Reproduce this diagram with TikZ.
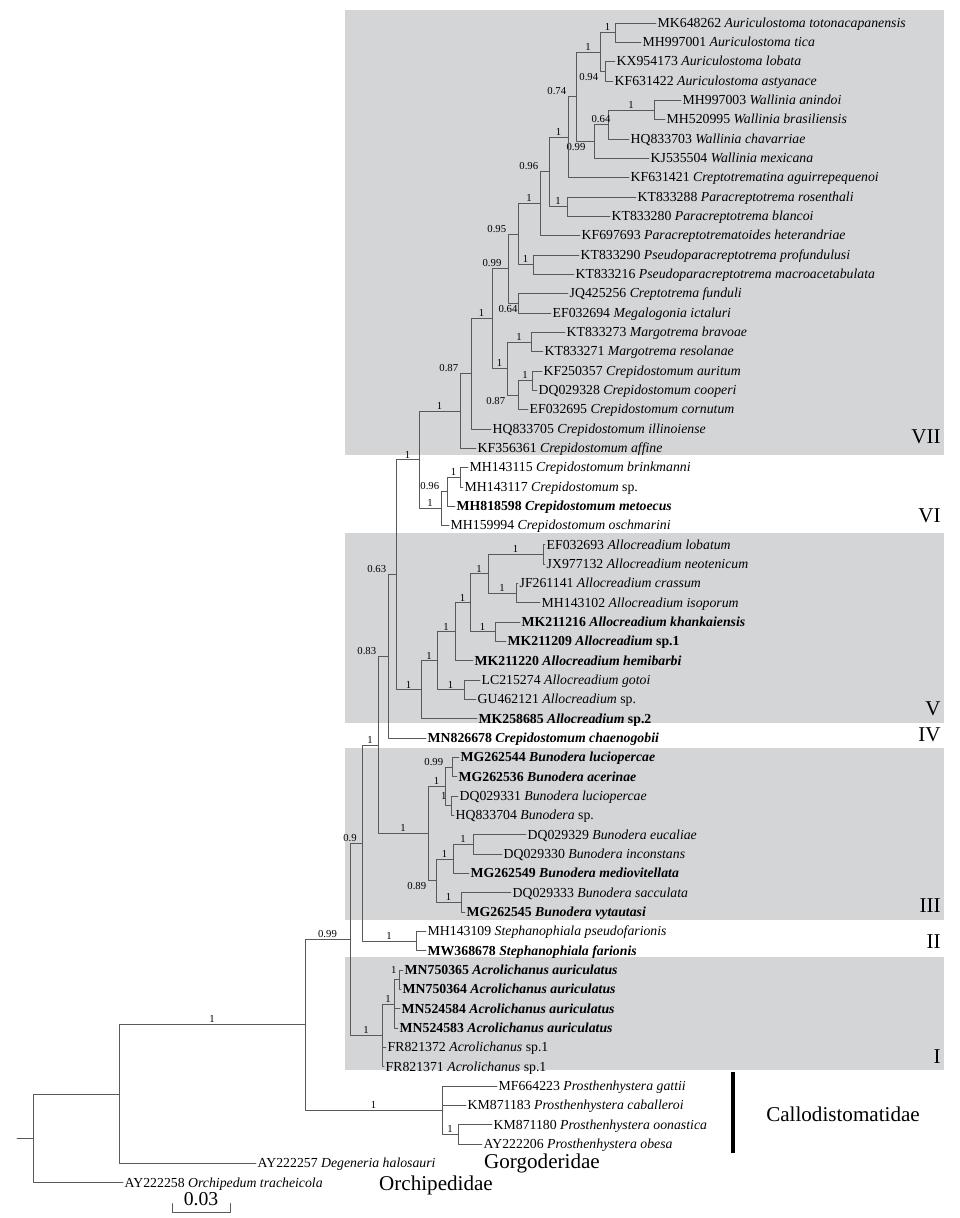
\documentclass[tikz,border=0pt]{standalone}
\usepackage{fontspec}
\setmainfont{Liberation Serif}
\definecolor{hopxam}{RGB}{211,213,215}
% tung do (px) cua hang thu #1
\newcommand{\rowy}[1]{3.67+19.33*(#1)}
\begin{document}
\begin{tikzpicture}[x=0.025cm,y=-0.025cm,line join=round,line cap=round,
	nhanh/.style={draw=black!65,line width=.6pt},
	leaf/.style={anchor=west,inner xsep=1pt,inner ysep=0pt,text height=7pt,text depth=1pt,font=\fontsize{9.8}{11}\selectfont},
	leafb/.style={leaf,font=\fontsize{9.8}{11}\selectfont\bfseries},
	bs/.style={pos=.75,above,inner sep=1pt,font=\fontsize{7.6}{8}\selectfont},
	bsal/.style={bs,pos=.5,above left},
	bsbl/.style={bs,pos=.5,below left},
	bsb/.style={bs,pos=.5,below},
	bsa/.style={bs,pos=.5,above},
	nhom/.style={anchor=east,inner sep=0pt,font=\fontsize{15}{17}\selectfont},
	ho/.style={inner sep=0pt,font=\fontsize{15}{17}\selectfont}]
	\useasboundingbox (0,0) rectangle (960,1218);
	% Cac vung to xam
	\fill[hopxam] (345,10) rectangle (944,455);
	\fill[hopxam] (345,533) rectangle (944,723);
	\fill[hopxam] (345,748) rectangle (944,920);
	\fill[hopxam] (345,957) rectangle (944,1070);
	% Ten cac nhanh
	\node[leaf] (l1) at (656,{\rowy{1}}) {MK648262 \textit{Auriculostoma totonacapanensis}};
	\node[leaf] (l2) at (641,{\rowy{2}}) {MH997001 \textit{Auriculostoma tica}};
	\node[leaf] (l3) at (615,{\rowy{3}}) {KX954173 \textit{Auriculostoma lobata}};
	\node[leaf] (l4) at (613,{\rowy{4}}) {KF631422 \textit{Auriculostoma astyanace}};
	\node[leaf] (l5) at (681,{\rowy{5}}) {MH997003 \textit{Wallinia anindoi}};
	\node[leaf] (l6) at (665,{\rowy{6}}) {MH520995 \textit{Wallinia brasiliensis}};
	\node[leaf] (l7) at (629,{\rowy{7}}) {HQ833703 \textit{Wallinia chavarriae}};
	\node[leaf] (l8) at (649,{\rowy{8}}) {KJ535504 \textit{Wallinia mexicana}};
	\node[leaf] (l9) at (629,{\rowy{9}}) {KF631421 \textit{Creptotrematina aguirrepequenoi}};
	\node[leaf] (l10) at (636,{\rowy{10}}) {KT833288 \textit{Paracreptotrema rosenthali}};
	\node[leaf] (l11) at (610,{\rowy{11}}) {KT833280 \textit{Paracreptotrema blancoi}};
	\node[leaf] (l12) at (580,{\rowy{12}}) {KF697693 \textit{Paracreptotrematoides heterandriae}};
	\node[leaf] (l13) at (579,{\rowy{13}}) {KT833290 \textit{Pseudoparacreptotrema profundulusi}};
	\node[leaf] (l14) at (574,{\rowy{14}}) {KT833216 \textit{Pseudoparacreptotrema macroacetabulata}};
	\node[leaf] (l15) at (568,{\rowy{15}}) {JQ425256 \textit{Creptotrema funduli}};
	\node[leaf] (l16) at (551,{\rowy{16}}) {EF032694 \textit{Megalogonia ictaluri}};
	\node[leaf] (l17) at (565,{\rowy{17}}) {KT833273 \textit{Margotrema bravoae}};
	\node[leaf] (l18) at (543,{\rowy{18}}) {KT833271 \textit{Margotrema resolanae}};
	\node[leaf] (l19) at (542,{\rowy{19}}) {KF250357 \textit{Crepidostomum auritum}};
	\node[leaf] (l20) at (537,{\rowy{20}}) {DQ029328 \textit{Crepidostomum cooperi}};
	\node[leaf] (l21) at (528,{\rowy{21}}) {EF032695 \textit{Crepidostomum cornutum}};
	\node[leaf] (l22) at (491,{\rowy{22}}) {HQ833705 \textit{Crepidostomum illinoiense}};
	\node[leaf] (l23) at (476,{\rowy{23}}) {KF356361 \textit{Crepidostomum affine}};
	\node[leaf] (l24) at (468,{\rowy{24}}) {MH143115 \textit{Crepidostomum brinkmanni}};
	\node[leaf] (l25) at (463,{\rowy{25}}) {MH143117 \textit{Crepidostomum} sp.};
	\node[leafb] (l26) at (455,{\rowy{26}}) {MH818598 \textit{Crepidostomum metoecus}};
	\node[leaf] (l27) at (449,{\rowy{27}}) {MH159994 \textit{Crepidostomum oschmarini}};
	\node[leaf] (l28) at (545,{\rowy{28}}) {EF032693 \textit{Allocreadium lobatum}};
	\node[leaf] (l29) at (545,{\rowy{29}}) {JX977132 \textit{Allocreadium neotenicum}};
	\node[leaf] (l30) at (518,{\rowy{30}}) {JF261141 \textit{Allocreadium crassum}};
	\node[leaf] (l31) at (540,{\rowy{31}}) {MH143102 \textit{Allocreadium isoporum}};
	\node[leafb] (l32) at (520,{\rowy{32}}) {MK211216 \textit{Allocreadium khankaiensis}};
	\node[leafb] (l33) at (506,{\rowy{33}}) {MK211209 \textit{Allocreadium} sp.1};
	\node[leafb] (l34) at (473,{\rowy{34}}) {MK211220 \textit{Allocreadium hemibarbi}};
	\node[leaf] (l35) at (480,{\rowy{35}}) {LC215274 \textit{Allocreadium gotoi}};
	\node[leaf] (l36) at (476,{\rowy{36}}) {GU462121 \textit{Allocreadium} sp.};
	\node[leafb] (l37) at (477,{\rowy{37}}) {MK258685 \textit{Allocreadium} sp.2};
	\node[leafb] (l38) at (426,{\rowy{38}}) {MN826678 \textit{Crepidostomum chaenogobii}};
	\node[leafb] (l39) at (459,{\rowy{39}}) {MG262544 \textit{Bunodera luciopercae}};
	\node[leafb] (l40) at (457,{\rowy{40}}) {MG262536 \textit{Bunodera acerinae}};
	\node[leaf] (l41) at (458,{\rowy{41}}) {DQ029331 \textit{Bunodera luciopercae}};
	\node[leaf] (l42) at (454,{\rowy{42}}) {HQ833704 \textit{Bunodera} sp.};
	\node[leaf] (l43) at (526,{\rowy{43}}) {DQ029329 \textit{Bunodera eucaliae}};
	\node[leaf] (l44) at (502,{\rowy{44}}) {DQ029330 \textit{Bunodera inconstans}};
	\node[leafb] (l45) at (469,{\rowy{45}}) {MG262549 \textit{Bunodera mediovitellata}};
	\node[leaf] (l46) at (511,{\rowy{46}}) {DQ029333 \textit{Bunodera sacculata}};
	\node[leafb] (l47) at (465,{\rowy{47}}) {MG262545 \textit{Bunodera vytautasi}};
	\node[leaf] (l48) at (426,{\rowy{48}}) {MH143109 \textit{Stephanophiala pseudofarionis}};
	\node[leafb] (l49) at (426,{\rowy{49}}) {MW368678 \textit{Stephanophiala farionis}};
	\node[leafb] (l50) at (403,{\rowy{50}}) {MN750365 \textit{Acrolichanus auriculatus}};
	\node[leafb] (l51) at (401,{\rowy{51}}) {MN750364 \textit{Acrolichanus auriculatus}};
	\node[leafb] (l52) at (400,{\rowy{52}}) {MN524584 \textit{Acrolichanus auriculatus}};
	\node[leafb] (l53) at (398,{\rowy{53}}) {MN524583 \textit{Acrolichanus auriculatus}};
	\node[leaf] (l54) at (386,{\rowy{54}}) {FR821372 \textit{Acrolichanus} sp.1};
	\node[leaf] (l55) at (384,{\rowy{55}}) {FR821371 \textit{Acrolichanus} sp.1};
	\node[leaf] (l56) at (497,{\rowy{56}}) {MF664223 \textit{Prosthenhystera gattii}};
	\node[leaf] (l57) at (466,{\rowy{57}}) {KM871183 \textit{Prosthenhystera caballeroi}};
	\node[leaf] (l58) at (492,{\rowy{58}}) {KM871180 \textit{Prosthenhystera oonastica}};
	\node[leaf] (l59) at (482,{\rowy{59}}) {AY222206 \textit{Prosthenhystera obesa}};
	\node[leaf] (l60) at (256,{\rowy{60}}) {AY222257 \textit{Degeneria halosauri}};
	\node[leaf] (l61) at (123,{\rowy{61}}) {AY222258 \textit{Orchipedum tracheicola}};
	% Cac nut trong
	\coordinate (a1) at (615,{\rowy{1.5}});
	\coordinate (a3) at (605,{\rowy{3.5}});
	\coordinate (a2) at (600,{\rowy{2.5}});
	\coordinate (w1) at (654,{\rowy{5.5}});
	\coordinate (w2) at (608,{\rowy{6.25}});
	\coordinate (w3) at (594,{\rowy{7.125}});
	\coordinate (a4) at (576,{\rowy{4.8125}});
	\coordinate (a5) at (568,{\rowy{6.906}});
	\coordinate (p1) at (567,{\rowy{10.5}});
	\coordinate (a6) at (549,{\rowy{8.703}});
	\coordinate (a7) at (540,{\rowy{10.352}});
	\coordinate (p2) at (533,{\rowy{13.5}});
	\coordinate (a8) at (518,{\rowy{11.926}});
	\coordinate (p3) at (518,{\rowy{15.5}});
	\coordinate (a9) at (508,{\rowy{13.713}});
	\coordinate (p4) at (531,{\rowy{17.5}});
	\coordinate (p5) at (532,{\rowy{19.5}});
	\coordinate (p6) at (518,{\rowy{20.25}});
	\coordinate (p7) at (507,{\rowy{18.875}});
	\coordinate (a10) at (492,{\rowy{16.294}});
	\coordinate (a11) at (471,{\rowy{19.147}});
	\coordinate (a12) at (460,{\rowy{21.074}});
	\coordinate (c1) at (460,{\rowy{24.5}});
	\coordinate (c2) at (447,{\rowy{25.25}});
	\coordinate (c3) at (441,{\rowy{26.125}});
	\coordinate (a13) at (419,{\rowy{23.599}});
	\coordinate (v6) at (543,{\rowy{28.5}});
	\coordinate (v7) at (516,{\rowy{30.5}});
	\coordinate (v5) at (488,{\rowy{29.5}});
	\coordinate (kh) at (495,{\rowy{32.5}});
	\coordinate (v4) at (470,{\rowy{31}});
	\coordinate (v3) at (455,{\rowy{32.5}});
	\coordinate (vg) at (464,{\rowy{35.5}});
	\coordinate (v2) at (437,{\rowy{34}});
	\coordinate (v1) at (421,{\rowy{35.5}});
	\coordinate (a14) at (396,{\rowy{29.55}});
	\coordinate (a15) at (388,{\rowy{33.775}});
	\coordinate (b1) at (452,{\rowy{39.5}});
	\coordinate (b2) at (451,{\rowy{41.5}});
	\coordinate (b3) at (445,{\rowy{40.5}});
	\coordinate (b7) at (473,{\rowy{43.5}});
	\coordinate (b5) at (453,{\rowy{44.25}});
	\coordinate (b6) at (461,{\rowy{46.5}});
	\coordinate (b4) at (436,{\rowy{45.375}});
	\coordinate (b0) at (428,{\rowy{42.94}});
	\coordinate (a16) at (378,{\rowy{38.36}});
	\coordinate (s1) at (416,{\rowy{48.5}});
	\coordinate (a17) at (362,{\rowy{43.43}});
	\coordinate (ac1) at (399,{\rowy{50.5}});
	\coordinate (ac2) at (394,{\rowy{51.75}});
	\coordinate (ac3) at (382,{\rowy{53.375}});
	\coordinate (a18) at (350,{\rowy{48.40}});
	\coordinate (pr2) at (458,{\rowy{58.5}});
	\coordinate (pr1) at (442,{\rowy{57.25}});
	\coordinate (nB) at (305,{\rowy{52.825}});
	\coordinate (nA) at (119,{\rowy{56.41}});
	\coordinate (nR) at (33,{\rowy{58.71}});
	\coordinate (goc) at (17,{\rowy{58.71}});
	% Ve cay
	\draw[nhanh] (a1) |- (l1.west) (a1) |- (l2.west) (a3) |- (l3.west) (a3) |- (l4.west);
	\draw[nhanh] (a2) |- node[bs]{1} (a1) (a2) |- node[bsbl]{0.94} (a3);
	\draw[nhanh] (w1) |- (l5.west) (w1) |- (l6.west) (w2) |- node[bs]{1} (w1) (w2) |- (l7.west);
	\draw[nhanh] (w3) |- node[bs]{0.64} (w2) (w3) |- (l8.west);
	\draw[nhanh] (a4) |- node[bs]{1} (a2) (a4) |- node[bsb]{0.99} (w3);
	\draw[nhanh] (a5) |- node[bsal]{0.74} (a4) (a5) |- (l9.west);
	\draw[nhanh] (p1) |- (l10.west) (p1) |- (l11.west);
	\draw[nhanh] (a6) |- node[bs]{1} (a5) (a6) |- node[bs]{1} (p1);
	\draw[nhanh] (a7) |- node[bsal]{0.96} (a6) (a7) |- (l12.west);
	\draw[nhanh] (p2) |- (l13.west) (p2) |- (l14.west);
	\draw[nhanh] (a8) |- node[bs]{1} (a7) (a8) |- node[bs]{1} (p2);
	\draw[nhanh] (p3) |- (l15.west) (p3) |- (l16.west);
	\draw[nhanh] (a9) |- node[bsal]{0.95} (a8) (a9) |- node[bsb]{0.64} (p3);
	\draw[nhanh] (p4) |- (l17.west) (p4) |- (l18.west) (p5) |- (l19.west) (p5) |- (l20.west);
	\draw[nhanh] (p6) |- node[bs]{1} (p5) (p6) |- (l21.west);
	\draw[nhanh] (p7) |- node[bs]{1} (p4) (p7) |- node[bsbl]{0.87} (p6);
	\draw[nhanh] (a10) |- node[bsa]{0.99} (a9) (a10) |- node[bs]{1} (p7);
	\draw[nhanh] (a11) |- node[bs]{1} (a10) (a11) |- (l22.west);
	\draw[nhanh] (a12) |- node[bsal]{0.87} (a11) (a12) |- (l23.west);
	\draw[nhanh] (c1) |- (l24.west) (c1) |- (l25.west);
	\draw[nhanh] (c2) |- node[bs]{1} (c1) (c2) |- (l26.west);
	\draw[nhanh] (c3) |- node[bsal]{0.96} (c2) (c3) |- (l27.west);
	\draw[nhanh] (a13) |- node[bs]{1} (a12) (a13) |- node[bs]{1} (c3);
	\draw[nhanh] (v6) |- (l28.west) (v6) |- (l29.west) (v7) |- (l30.west) (v7) |- (l31.west);
	\draw[nhanh] (v5) |- node[bs]{1} (v6) (v5) |- node[bs]{1} (v7);
	\draw[nhanh] (kh) |- (l32.west) (kh) |- (l33.west);
	\draw[nhanh] (v4) |- node[bs]{1} (v5) (v4) |- node[bs]{1} (kh);
	\draw[nhanh] (v3) |- node[bs]{1} (v4) (v3) |- (l34.west);
	\draw[nhanh] (vg) |- (l35.west) (vg) |- (l36.west);
	\draw[nhanh] (v2) |- node[bs]{1} (v3) (v2) |- node[bs]{1} (vg);
	\draw[nhanh] (v1) |- node[bs]{1} (v2) (v1) |- (l37.west);
	\draw[nhanh] (a14) |- node[bs]{1} (a13) (a14) |- node[bs]{1} (v1);
	\draw[nhanh] (a15) |- node[bsal]{0.63} (a14) (a15) |- (l38.west);
	\draw[nhanh] (b1) |- (l39.west) (b1) |- (l40.west) (b2) |- (l41.west) (b2) |- (l42.west);
	\draw[nhanh] (b3) |- node[bsal]{0.99} (b1) (b3) |- node[bs,xshift=-3,yshift=3]{1} (b2);
	\draw[nhanh] (b7) |- (l43.west) (b7) |- (l44.west);
	\draw[nhanh] (b5) |- node[bs]{1} (b7) (b5) |- (l45.west);
	\draw[nhanh] (b6) |- (l46.west) (b6) |- (l47.west);
	\draw[nhanh] (b4) |- node[bs]{1} (b5) (b4) |- node[bs]{1} (b6);
	\draw[nhanh] (b0) |- node[bs]{1} (b3) (b0) |- node[bsbl]{0.89} (b4);
	\draw[nhanh] (a16) |- node[bsal]{0.83} (a15) (a16) |- node[bs]{1} (b0);
	\draw[nhanh] (s1) |- (l48.west) (s1) |- (l49.west);
	\draw[nhanh] (a17) |- node[bs]{1} (a16) (a17) |- node[bs]{1} (s1);
	\draw[nhanh] (ac1) |- (l50.west) (ac1) |- (l51.west);
	\draw[nhanh] (ac2) |- node[bs,xshift=-2,yshift=3]{1} (ac1) (ac2) |- (l52.west) (ac2) |- (l53.west);
	\draw[nhanh] (ac3) |- node[bs]{1} (ac2) (ac3) |- (l54.west) (ac3) |- (l55.west);
	\draw[nhanh] (a18) |- node[bsa]{0.9} (a17) (a18) |- node[bs]{1} (ac3);
	\draw[nhanh] (pr2) |- (l58.west) (pr2) |- (l59.west);
	\draw[nhanh] (pr1) |- (l56.west) (pr1) |- (l57.west) (pr1) |- node[bs]{1} (pr2);
	\draw[nhanh] (nB) |- node[bs]{0.99} (a18) (nB) |- node[bs]{1} (pr1);
	\draw[nhanh] (nA) |- node[bs]{1} (nB) (nA) |- (l60.west);
	\draw[nhanh] (nR) |- (nA) (nR) |- (l61.west) (goc) -- (nR);
	% Chu thich cac nhom
	\node[nhom] (gVII) at (941,437) {VII};
	\node[nhom] (gVI) at (941,516) {VI};
	\node[nhom] (gV) at (941,709) {V};
	\node[nhom] (gIV) at (941,735) {IV};
	\node[nhom] (gIII) at (941,906) {III};
	\node[nhom] (gII) at (941,942) {II};
	\node[nhom] (gI) at (941,1057) {I};
	\draw[line width=2.6pt,line cap=butt] (733,1072)--(733,1153);
	\node[ho] (callo) at (843,1114) {Callodistomatidae};
	\node[ho] (gorgo) at (542,1163) {Gorgoderidae};
	\node[ho] (orchi) at (436,1185) {Orchipedidae};
	% Thuoc ty le
	\coordinate (sbt) at (172,1212);
	\coordinate (sbp) at (230,1212);
	\draw[nhanh] ([yshift=6]sbt) -- (sbt) -- (sbp) -- ([yshift=6]sbp);
	\node[inner sep=0pt,font=\fontsize{14}{16}\selectfont] (tyle) at (201,1199) {0.03};
\end{tikzpicture}
\end{document}
